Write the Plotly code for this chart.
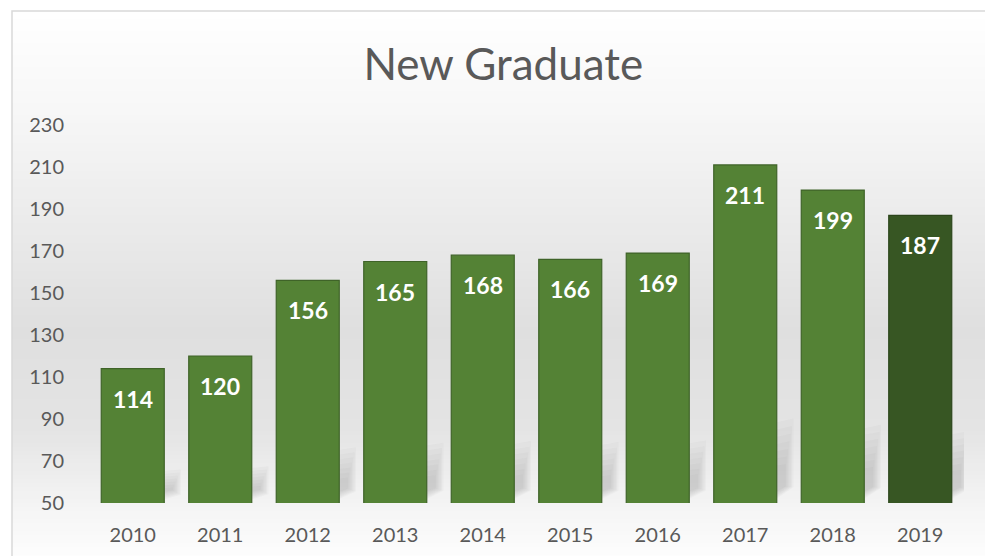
import plotly.graph_objects as go

# data
years = ["2010", "2011", "2012", "2013", "2014", "2015", "2016", "2017", "2018", "2019"]
graduates = [114, 120, 156, 165, 168, 166, 169, 211, 199, 187]
y_ticks = [50, 70, 90, 110, 130, 150, 170, 190, 210, 230]

W, H = 985, 556
L, R, T, B = 89, 21, 125, 53
FONT = "Lato, 'Open Sans', sans-serif"
Y0, Y1 = 50, 230

bar_colors = ["#548235"] * (len(years) - 1) + ["#375623"]
line_colors = ["#3f6328"] * (len(years) - 1) + ["#2c451c"]


def px2paper(px, py):
    # pixel in the page -> paper coordinates of the plot area
    pw, ph = W - L - R, H - T - B
    return (px - L) / pw, (H - B - py) / ph


def bg_grey(py):
    # vertical background gradient: white top, grey middle, lighter at the baseline
    stops = [(11, 255), (120, 246), (330, 223), (430, 228), (504, 244), (556, 253)]
    for (a, ga), (b, gb) in zip(stops, stops[1:]):
        if py <= b:
            t = (py - a) / (b - a)
            return int(round(ga + (gb - ga) * t))
    return 253


fig = go.Figure()
fig.add_trace(go.Bar(
    x=years, y=graduates,
    marker=dict(color=bar_colors, line=dict(color=line_colors, width=1.2)),
    hoverinfo="x+y",
))

# value labels inside the top of each bar (x = category index)
for i, v in enumerate(graduates):
    fig.add_annotation(x=i, y=v, text=f"<b>{v}</b>", showarrow=False,
                       yanchor="middle", yshift=-30,
                       font=dict(family=FONT, size=23, color="white"))

shapes = []
step = 4
for py in range(11, H + 4, step):
    g = bg_grey(py + step / 2)
    x0p, y0p = px2paper(12, py)
    x1p, y1p = px2paper(W + 5, py + step + 0.6)
    shapes.append(dict(type="rect", xref="paper", yref="paper", x0=x0p, x1=x1p,
                       y0=y1p, y1=y0p, line=dict(width=0),
                       fillcolor=f"rgb({g},{g},{g})", layer="below"))

# soft shadows to the right of each bar, near its base
half = (1 - 0.28) / 2
for i, v in enumerate(graduates):
    hs = 0.25 * (v - Y0)
    right = i + half
    for k in range(7):
        h = hs * (1 - 0.09 * k)
        d = 0.19 - 0.015 * k
        lift = 1.5 + 0.6 * k
        path = (f"M {right - 0.02},{Y0 + lift} L {right + d},{Y0 + lift + 0.15 * h} "
                f"L {right + d},{Y0 + h} L {right - 0.02},{Y0 + h * 0.95} Z")
        shapes.append(dict(type="path", xref="x", yref="y", path=path,
                           line=dict(width=0), fillcolor="rgba(110,110,110,0.045)",
                           layer="below"))

# chart frame
x0p, y0p = px2paper(12, 11)
x1p, y1p = px2paper(W + 10, H + 10)
shapes.append(dict(type="rect", xref="paper", yref="paper", x0=x0p, x1=x1p,
                   y0=y1p, y1=y0p, line=dict(color="#d9d9d9", width=1.5),
                   fillcolor="rgba(0,0,0,0)", layer="below"))

fig.update_layout(
    width=W, height=H,
    margin=dict(l=L, r=R, t=T, b=B, autoexpand=False),
    paper_bgcolor="white",
    plot_bgcolor="rgba(0,0,0,0)",
    shapes=shapes,
    bargap=0.28,
    showlegend=False,
    title=dict(text="New Graduate", x=0.511, xanchor="center", y=0.883, yanchor="middle",
               font=dict(family=FONT, size=44, color="#595959")),
    font=dict(family=FONT, color="#595959"),
)
fig.update_xaxes(type="category", range=[-0.5, len(years) - 0.5], automargin=False,
                 showgrid=False, zeroline=False, showline=False,
                 ticks="outside", ticklen=14, tickcolor="rgba(0,0,0,0)",
                 tickfont=dict(size=20, color="#595959"))
fig.update_yaxes(range=[Y0, Y1], tickvals=y_ticks, automargin=False,
                 showgrid=False, zeroline=False, showline=False,
                 ticks="outside", ticklen=20, tickcolor="rgba(0,0,0,0)",
                 tickfont=dict(size=20, color="#595959"))

# drop the browser's default body margin so the figure sits at (0, 0)
fig.write_html("out.html", config={"displayModeBar": False},
               post_script="document.body.style.margin='0';")
